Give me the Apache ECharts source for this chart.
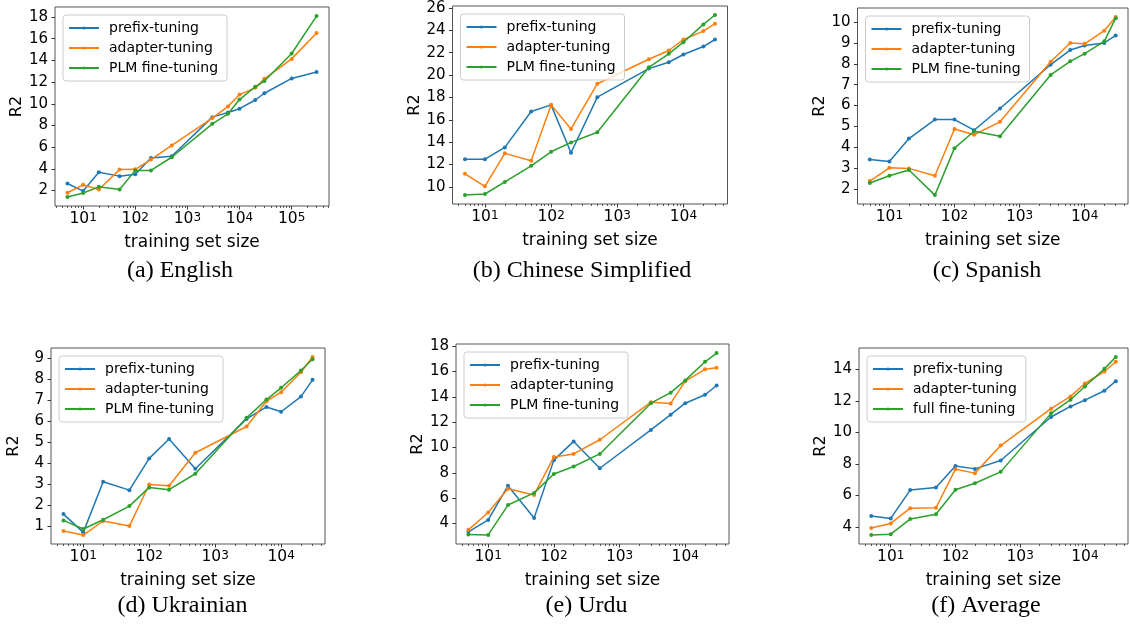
<!DOCTYPE html>
<html><head><meta charset="utf-8">
<script src="https://cdn.jsdelivr.net/npm/echarts@6/dist/echarts.min.js"></script>
<style>html,body{margin:0;padding:0;background:#fff;}#c{width:1130px;height:626px;}</style>
</head><body><div id="c"></div>
<script>
// ---------- data ----------
const sizes   = [5, 10, 20, 50, 100, 200, 500, 3000, 6000, 10000, 20000, 30000];
const sizesEn = [5, 10, 20, 50, 100, 200, 500, 3000, 6000, 10000, 20000, 30000, 100000, 300000];
const namesPLM  = ['prefix-tuning', 'adapter-tuning', 'PLM fine-tuning'];
const namesFull = ['prefix-tuning', 'adapter-tuning', 'full fine-tuning'];

const enPrefix  = [2.65, 1.95, 3.68, 3.33, 3.50, 5.00, 5.17, 8.77, 9.20, 9.55, 10.35, 10.97, 12.34, 12.93];
const enAdapter = [1.80, 2.53, 2.10, 3.93, 3.96, 4.86, 6.16, 8.68, 9.76, 10.85, 11.47, 12.30, 14.14, 16.53];
const enPLM     = [1.41, 1.78, 2.34, 2.10, 3.86, 3.86, 5.07, 8.15, 9.08, 10.39, 11.57, 12.10, 14.64, 18.09];

const zhPrefix  = [12.48, 12.48, 13.53, 16.74, 17.33, 13.05, 18.02, 20.57, 21.14, 21.83, 22.54, 23.17];
const zhAdapter = [11.17, 10.06, 13.00, 12.34, 17.33, 15.18, 19.22, 21.41, 22.19, 23.17, 23.92, 24.58];
const zhPLM     = [9.28, 9.37, 10.45, 11.89, 13.14, 13.98, 14.88, 20.69, 21.89, 22.93, 24.52, 25.36];

const esPrefix  = [3.42, 3.32, 4.42, 5.33, 5.33, 4.82, 5.86, 7.96, 8.66, 8.88, 9.00, 9.36];
const esAdapter = [2.38, 3.02, 2.99, 2.64, 4.88, 4.60, 5.22, 8.10, 9.00, 8.96, 9.59, 10.25];
const esPLM     = [2.29, 2.64, 2.91, 1.71, 3.96, 4.77, 4.53, 7.47, 8.12, 8.49, 9.08, 10.19];

const ukPrefix  = [1.57, 0.70, 3.11, 2.71, 4.22, 5.14, 3.73, 6.10, 6.67, 6.44, 7.16, 7.96];
const ukAdapter = [0.76, 0.57, 1.24, 1.00, 2.98, 2.92, 4.49, 5.74, 6.94, 7.37, 8.32, 9.05];
const ukPLM     = [1.27, 0.86, 1.30, 1.95, 2.84, 2.73, 3.49, 6.15, 7.02, 7.58, 8.40, 8.94];

const urPrefix  = [3.33, 4.27, 6.97, 4.43, 9.00, 10.48, 8.36, 11.39, 12.59, 13.50, 14.17, 14.90];
const urAdapter = [3.49, 4.86, 6.73, 6.25, 9.25, 9.49, 10.61, 13.58, 13.48, 15.24, 16.18, 16.31];
const urPLM     = [3.12, 3.09, 5.45, 6.41, 7.91, 8.50, 9.49, 13.50, 14.33, 15.30, 16.77, 17.46];

const avgPrefix  = [4.68, 4.53, 6.33, 6.50, 7.87, 7.68, 8.21, 10.98, 11.65, 12.05, 12.65, 13.26];
const avgAdapter = [3.92, 4.21, 5.18, 5.21, 7.66, 7.41, 9.16, 11.51, 12.29, 13.11, 13.87, 14.49];
const avgFull    = [3.47, 3.53, 4.49, 4.80, 6.35, 6.77, 7.49, 11.21, 12.08, 12.92, 14.04, 14.80];

const xTicksEn = [10, 100, 1000, 10000, 100000];
const xTicks   = [10, 100, 1000, 10000];
const yTicksEn = [2, 4, 6, 8, 10, 12, 14, 16, 18];
const yTicksZh = [10, 12, 14, 16, 18, 20, 22, 24, 26];
const yTicksEs = [2, 3, 4, 5, 6, 7, 8, 9, 10];
const yTicksUk = [1, 2, 3, 4, 5, 6, 7, 8, 9];
const yTicksUr = [4, 6, 8, 10, 12, 14, 16, 18];
const yTicksAvg = [4, 6, 8, 10, 12, 14];

// ---------- layout ----------
const panels = [
  {grid:{left:55, top:7, width:274, height:199}, x:sizesEn, ys:[enPrefix, enAdapter, enPLM], names:namesPLM, xt:xTicksEn, yt:yTicksEn, cap:'(a) English', cx:180, cy:271},
  {grid:{left:452.5, top:6, width:275, height:198}, x:sizes, ys:[zhPrefix, zhAdapter, zhPLM], names:namesPLM, xt:xTicks, yt:yTicksZh, cap:'(b) Chinese Simplified', cx:582, cy:271},
  {grid:{left:857.5, top:8, width:270.5, height:196}, x:sizes, ys:[esPrefix, esAdapter, esPLM], names:namesPLM, xt:xTicks, yt:yTicksEs, cap:'(c) Spanish', cx:987, cy:271},
  {grid:{left:51, top:348, width:274, height:196}, x:sizes, ys:[ukPrefix, ukAdapter, ukPLM], names:namesPLM, xt:xTicks, yt:yTicksUk, cap:'(d) Ukrainian', cx:182.5, cy:606},
  {grid:{left:456, top:344, width:273, height:200}, x:sizes, ys:[urPrefix, urAdapter, urPLM], names:namesPLM, xt:xTicks, yt:yTicksUr, cap:'(e) Urdu', cx:586.5, cy:606},
  {grid:{left:859, top:348, width:269, height:196}, x:sizes, ys:[avgPrefix, avgAdapter, avgFull], names:namesFull, xt:xTicks, yt:yTicksAvg, cap:'(f) Average', cx:986, cy:606}
];

const colors = ['#1f77b4', '#ff7f0e', '#2ca02c'];
const FONT = 'DejaVu Sans';
const TICK = '#333';

function xLimits(xs) {
  const l0 = Math.log10(Math.min(...xs)), l1 = Math.log10(Math.max(...xs));
  const m = (l1 - l0) * 0.05;
  return [Math.pow(10, l0 - m), Math.pow(10, l1 + m)];
}
function yLimits(ys) {
  const all = [].concat(...ys);
  const lo = Math.min(...all), hi = Math.max(...all);
  const m = (hi - lo) * 0.05;
  return [lo - m, hi + m];
}
function minorTicks(lim) {
  const out = [];
  for (let k = 0; k <= 6; k++) for (let d = 2; d <= 9; d++) {
    const v = d * Math.pow(10, k);
    if (v >= lim[0] && v <= lim[1]) out.push(v);
  }
  return out;
}

const option = {
  animation: false,
  backgroundColor: '#fff',
  grid: [], xAxis: [], yAxis: [], series: [], legend: [], graphic: []
};

panels.forEach((p, i) => {
  const xl = xLimits(p.x), yl = yLimits(p.ys);
  option.grid.push(Object.assign({show:true, borderColor:'#555', borderWidth:1, backgroundColor:'transparent', containLabel:false, outerBoundsMode:'none'}, p.grid));
  option.xAxis.push({
    type:'log', logBase:10, gridIndex:i, position:'bottom', offset:0, min:xl[0], max:xl[1],
    axisLine:{show:false}, splitLine:{show:false},
    axisTick:{show:true, length:3.5, customValues:p.xt, lineStyle:{color:TICK, width:1}},
    axisLabel:{show:true, customValues:p.xt, margin:6, color:'#000',
      formatter: v => '{b|10}{s|' + Math.round(Math.log10(v)) + '}',
      rich:{ b:{fontFamily:FONT, fontSize:15.5, color:'#000', verticalAlign:'bottom', lineHeight:15},
             s:{fontFamily:FONT, fontSize:12, color:'#000', verticalAlign:'top', lineHeight:12, padding:[0,0,8,0]} }},
    name:'training set size', nameLocation:'middle', nameGap:28,
    nameTextStyle:{fontFamily:FONT, fontSize:17, color:'#000'}
  });
  option.xAxis.push({
    type:'log', logBase:10, gridIndex:i, position:'bottom', offset:0, min:xl[0], max:xl[1],
    axisLine:{show:false}, splitLine:{show:false}, axisLabel:{show:false},
    axisTick:{show:true, length:2, customValues:minorTicks(xl), lineStyle:{color:TICK, width:0.8}}
  });
  option.yAxis.push({
    type:'value', gridIndex:i, min:yl[0], max:yl[1],
    axisLine:{show:false}, splitLine:{show:false},
    axisTick:{show:true, length:3.5, customValues:p.yt, lineStyle:{color:TICK, width:1}},
    axisLabel:{show:true, customValues:p.yt, margin:7, fontFamily:FONT, fontSize:15, color:'#000'},
    name:'R2', nameLocation:'middle', nameGap:29,
    nameTextStyle:{fontFamily:FONT, fontSize:16, color:'#000'}
  });
  p.ys.forEach((arr, j) => {
    option.series.push({
      type:'line', name:p.names[j], xAxisIndex:2*i, yAxisIndex:i,
      data: p.x.map((xv, k) => [xv, arr[k]]),
      symbol:'circle', symbolSize:4, showSymbol:true,
      color:colors[j], itemStyle:{color:colors[j]},
      lineStyle:{color:colors[j], width:1.5}, z:2+j
    });
  });
  option.legend.push({
    left:p.grid.left + 8, top:p.grid.top + 8, orient:'vertical', data:p.names,
    padding:[6,9,6,5], itemWidth:30, itemHeight:4, itemGap:6, selectedMode:false,
    textStyle:{fontFamily:FONT, fontSize:14, color:'#000', padding:[0,0,0,5]},
    backgroundColor:'rgba(255,255,255,0.8)', borderColor:'#ccc', borderWidth:1, borderRadius:3, z:10
  });
  option.graphic.push({
    type:'text', x:p.cx, y:p.cy, z:10,
    style:{text:p.cap, font:'24px "Liberation Serif"', fill:'#000', align:'center', verticalAlign:'middle'}
  });
});

const chart = echarts.init(document.getElementById('c'), null, {renderer:'canvas'});
chart.setOption(option);
</script>
</body></html>
